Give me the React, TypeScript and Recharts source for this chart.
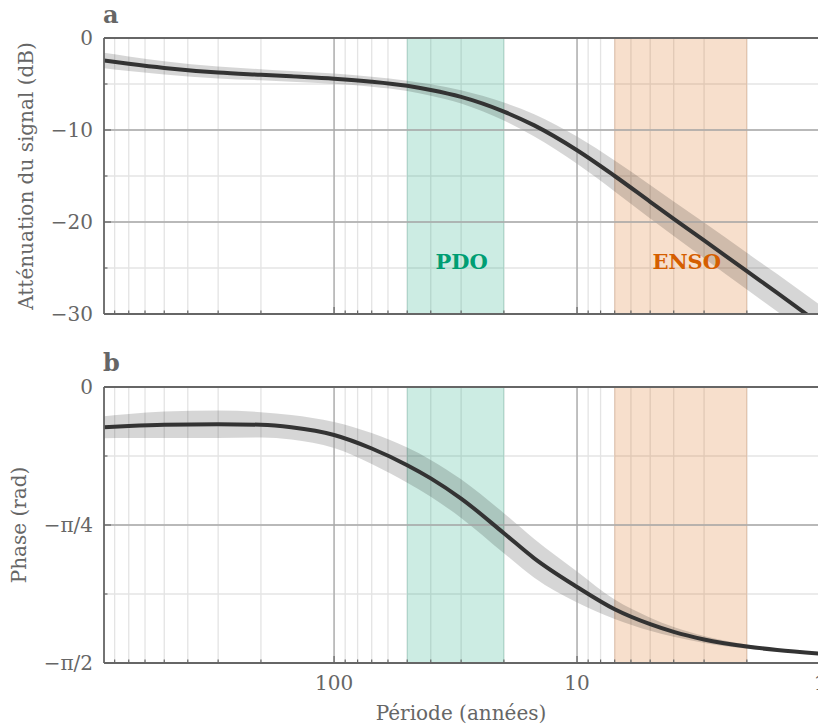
import React from 'react';
import {
  ComposedChart,
  Line,
  Area,
  XAxis,
  YAxis,
  CartesianGrid,
  ReferenceLine,
  ReferenceArea,
} from 'recharts';

const FONT = '"DejaVu Serif", serif';
const INK = '#666666';
const MAJOR_GRID = '#a8a8a8';
const MINOR_GRID = '#e4e4e4';
const CURVE = '#333333';

// ---- data ----
const periods = [885, 700, 500, 300, 200, 150, 100, 70, 50, 40, 30, 20, 15, 10, 7, 5, 4, 3, 2, 1.5, 1];
const attenuationDb = [-2.45, -2.8, -3.25, -3.75, -4.0, -4.17, -4.42, -4.75, -5.2, -5.65, -6.4, -8.0, -9.5, -12.2, -15.0, -17.8, -19.65, -22.0, -25.35, -27.7, -31.1];
const attenuationSpread = [0.85, 0.8, 0.72, 0.65, 0.6, 0.58, 0.55, 0.55, 0.56, 0.62, 0.72, 0.98, 1.22, 1.48, 1.68, 1.82, 1.88, 1.94, 2.0, 2.04, 2.08];
const phaseRad = [-0.229, -0.222, -0.215, -0.212, -0.215, -0.229, -0.273, -0.35, -0.445, -0.52, -0.635, -0.832, -0.975, -1.138, -1.265, -1.35, -1.394, -1.437, -1.477, -1.497, -1.518];
const phaseSpread = [0.062, 0.068, 0.075, 0.078, 0.072, 0.07, 0.074, 0.088, 0.1, 0.105, 0.11, 0.114, 0.11, 0.088, 0.055, 0.037, 0.028, 0.02, 0.012, 0.008, 0.005];

const xTicks = [1, 2, 3, 4, 5, 6, 7, 8, 9, 10, 20, 30, 40, 50, 60, 70, 80, 90, 100, 200, 300, 400, 500, 600, 700, 800];
const xMajor = [1, 10, 100];
const xMajorLabels = ['1', '10', '100'];
const xDomain = [1, 885];

const dbTicks = [0, -5, -10, -15, -20, -25, -30];
const dbMajor = [0, -10, -20, -30];
const dbMajorLabels = ['0', '\u221210', '\u221220', '\u221230'];
const dbInnerMajor = [-10, -20];

const phaseTicks = [0, -Math.PI / 8, -Math.PI / 4, (-3 * Math.PI) / 8, -Math.PI / 2];
const phaseMajor = [0, -Math.PI / 4, -Math.PI / 2];
const phaseMajorLabels = ['0', '\u2212\u03c0/4', '\u2212\u03c0/2'];
const phaseInnerMajor = [-Math.PI / 4];

const pdoRange = [20, 50];
const ensoRange = [2, 7];
const PDO_COLOR = '#009E73';
const ENSO_COLOR = '#D55E00';

const dataA = periods.map((p, i) => ({
  p,
  v: attenuationDb[i],
  band: [attenuationDb[i] - attenuationSpread[i], attenuationDb[i] + attenuationSpread[i]],
}));
const dataB = periods.map((p, i) => ({
  p,
  v: phaseRad[i],
  band: [phaseRad[i] - phaseSpread[i], phaseRad[i] + phaseSpread[i]],
}));

const findIdx = (arr: number[], v: number) => arr.findIndex((m) => Math.abs(m - v) < 1e-6);

const makeXTick = (showLabel: boolean) => (props: any) => {
  const { x, y, payload } = props;
  const idx = findIdx(xMajor, payload.value);
  const major = idx >= 0;
  return (
    <g>
      <line x1={x} x2={x} y1={y} y2={y - (major ? 7 : 3.5)} stroke={INK} strokeWidth={1.2} />
      {showLabel && major && (
        <text x={x} y={y + 27} textAnchor="middle" fill={INK} fontSize={20} fontFamily={FONT}>
          {xMajorLabels[idx]}
        </text>
      )}
    </g>
  );
};

const makeYTick = (majors: number[], labels: string[]) => (props: any) => {
  const { x, y, payload } = props;
  const idx = findIdx(majors, payload.value);
  const major = idx >= 0;
  return (
    <g>
      <line x1={x} x2={x + (major ? 7 : 3.5)} y1={y} y2={y} stroke={INK} strokeWidth={1.2} />
      {major && (
        <text x={x - 11} y={y} dy="0.36em" textAnchor="end" fill={INK} fontSize={20} fontFamily={FONT}>
          {labels[idx]}
        </text>
      )}
    </g>
  );
};

const bandLabel = (text: string, color: string) => ({
  value: text,
  position: 'insideBottom' as const,
  offset: 45,
  dx: 6,
  fill: color,
  fontSize: 21,
  fontWeight: 'bold',
  fontFamily: FONT,
});

const CHART_W = 830;

export default function App() {
  return (
    <div
      style={{
        position: 'absolute',
        left: 0,
        top: 0,
        width: 818,
        height: 728,
        overflow: 'hidden',
        background: '#ffffff',
      }}
    >
      {/* Panel a */}
      <div style={{ position: 'absolute', left: 0, top: 0 }}>
        <ComposedChart
          width={CHART_W}
          height={330}
          data={dataA}
          margin={{ top: 38, right: 10, bottom: 6, left: 44 }}
        >
          <CartesianGrid stroke={MINOR_GRID} strokeWidth={1.3} />
          {xMajor.map((v) => (
            <ReferenceLine key={'xa' + v} x={v} stroke={MAJOR_GRID} strokeWidth={1.3} />
          ))}
          {dbInnerMajor.map((v) => (
            <ReferenceLine key={'ya' + v} y={v} stroke={MAJOR_GRID} strokeWidth={1.3} />
          ))}
          <ReferenceArea
            x1={pdoRange[0]}
            x2={pdoRange[1]}
            fill={PDO_COLOR}
            fillOpacity={0.2}
            stroke={PDO_COLOR}
            strokeOpacity={0.15}
            label={bandLabel('PDO', PDO_COLOR)}
          />
          <ReferenceArea
            x1={ensoRange[0]}
            x2={ensoRange[1]}
            fill={ENSO_COLOR}
            fillOpacity={0.2}
            stroke={ENSO_COLOR}
            strokeOpacity={0.15}
            label={bandLabel('ENSO', ENSO_COLOR)}
          />
          <Area
            dataKey="band"
            type="monotone"
            stroke="none"
            fill="#000000"
            fillOpacity={0.16}
            isAnimationActive={false}
            activeDot={false}
          />
          <Line
            dataKey="v"
            type="monotone"
            stroke={CURVE}
            strokeWidth={4}
            dot={false}
            activeDot={false}
            isAnimationActive={false}
          />
          <ReferenceLine y={0} stroke={INK} strokeWidth={1.8} />
          <XAxis
            dataKey="p"
            type="number"
            scale="log"
            domain={xDomain}
            reversed
            allowDataOverflow
            ticks={xTicks}
            interval={0}
            height={10}
            tickSize={0}
            tickMargin={0}
            tickLine={false}
            axisLine={{ stroke: INK, strokeWidth: 1.8 }}
            tick={makeXTick(false)}
          />
          <YAxis
            type="number"
            domain={[-30, 0]}
            allowDataOverflow
            ticks={dbTicks}
            interval={0}
            width={60}
            tickSize={0}
            tickMargin={0}
            tickLine={false}
            axisLine={{ stroke: INK, strokeWidth: 1.8 }}
            tick={makeYTick(dbMajor, dbMajorLabels)}
          />
        </ComposedChart>
      </div>

      {/* Panel b */}
      <div style={{ position: 'absolute', left: 0, top: 340 }}>
        <ComposedChart
          width={CHART_W}
          height={388}
          data={dataB}
          margin={{ top: 47, right: 10, bottom: 25, left: 44 }}
        >
          <CartesianGrid stroke={MINOR_GRID} strokeWidth={1.3} />
          {xMajor.map((v) => (
            <ReferenceLine key={'xb' + v} x={v} stroke={MAJOR_GRID} strokeWidth={1.3} />
          ))}
          {phaseInnerMajor.map((v) => (
            <ReferenceLine key={'yb' + v} y={v} stroke={MAJOR_GRID} strokeWidth={1.3} />
          ))}
          <ReferenceArea
            x1={pdoRange[0]}
            x2={pdoRange[1]}
            fill={PDO_COLOR}
            fillOpacity={0.2}
            stroke={PDO_COLOR}
            strokeOpacity={0.15}
          />
          <ReferenceArea
            x1={ensoRange[0]}
            x2={ensoRange[1]}
            fill={ENSO_COLOR}
            fillOpacity={0.2}
            stroke={ENSO_COLOR}
            strokeOpacity={0.15}
          />
          <Area
            dataKey="band"
            type="monotone"
            stroke="none"
            fill="#000000"
            fillOpacity={0.16}
            isAnimationActive={false}
            activeDot={false}
          />
          <Line
            dataKey="v"
            type="monotone"
            stroke={CURVE}
            strokeWidth={4}
            dot={false}
            activeDot={false}
            isAnimationActive={false}
          />
          <ReferenceLine y={0} stroke={INK} strokeWidth={1.8} />
          <XAxis
            dataKey="p"
            type="number"
            scale="log"
            domain={xDomain}
            reversed
            allowDataOverflow
            ticks={xTicks}
            interval={0}
            height={40}
            tickSize={0}
            tickMargin={0}
            tickLine={false}
            axisLine={{ stroke: INK, strokeWidth: 1.8 }}
            tick={makeXTick(true)}
          />
          <YAxis
            type="number"
            domain={[-Math.PI / 2, 0]}
            allowDataOverflow
            ticks={phaseTicks}
            interval={0}
            width={60}
            tickSize={0}
            tickMargin={0}
            tickLine={false}
            axisLine={{ stroke: INK, strokeWidth: 1.8 }}
            tick={makeYTick(phaseMajor, phaseMajorLabels)}
          />
        </ComposedChart>
      </div>

      {/* Titles and panel letters */}
      <svg
        width={818}
        height={728}
        style={{ position: 'absolute', left: 0, top: 0, pointerEvents: 'none' }}
      >
        <text x={103} y={23} fill={INK} fontSize={24} fontWeight="bold" fontFamily={FONT}>
          a
        </text>
        <text x={103} y={371} fill={INK} fontSize={24} fontWeight="bold" fontFamily={FONT}>
          b
        </text>
        <text
          transform="translate(33,176) rotate(-90)"
          textAnchor="middle"
          fill={INK}
          fontSize={20}
          fontFamily={FONT}
        >
          Atténuation du signal (dB)
        </text>
        <text
          transform="translate(26,525) rotate(-90)"
          textAnchor="middle"
          fill={INK}
          fontSize={20}
          fontFamily={FONT}
        >
          Phase (rad)
        </text>
        <text x={461} y={720} textAnchor="middle" fill={INK} fontSize={20} fontFamily={FONT}>
          Période (années)
        </text>
      </svg>
    </div>
  );
}
